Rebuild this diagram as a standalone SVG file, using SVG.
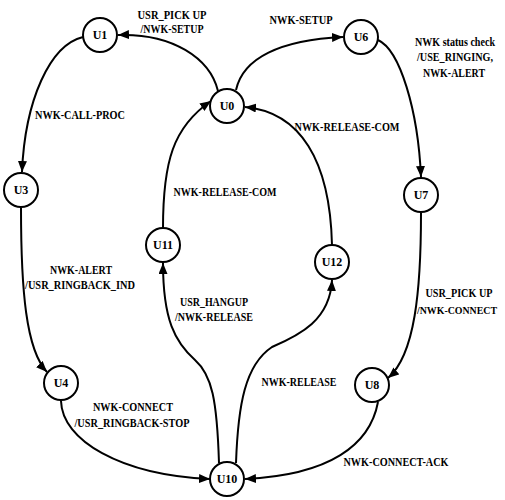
<svg xmlns="http://www.w3.org/2000/svg" width="505" height="500" viewBox="0 0 505 500">
<style>
.node circle{fill:#fff;stroke:#000;stroke-width:2}
.node text{font-family:"Liberation Serif","Times New Roman",serif;font-weight:bold;font-size:12px;text-anchor:middle}
.edge{fill:none;stroke:#000;stroke-width:2;marker-end:url(#arr)}
.lbl{font-family:"Liberation Serif","Times New Roman",serif;font-weight:bold;font-size:11.5px;text-anchor:middle;fill:#000}
</style>
<defs>
<marker id="arr" markerUnits="userSpaceOnUse" markerWidth="11" markerHeight="9" refX="11" refY="4.5" orient="auto">
<path d="M0,0 L11,4.5 L0,9 z" fill="#000"/>
</marker>
</defs>
<rect width="505" height="500" fill="#fff"/>
<g id="connectors">
<path class="edge" d="M218,91 C210,58 172,33 118,35"/>
<path class="edge" d="M236,90 C243,58 280,40 343,37"/>
<path class="edge" d="M83,37 C50,45 25,100 22,172"/>
<path class="edge" d="M378,40 C400,50 418,110 421,177"/>
<path class="edge" d="M21,208 C21,290 26,350 47,372"/>
<path class="edge" d="M421,213 C421,290 415,355 388,378"/>
<path class="edge" d="M61,401 C62,440 120,475 210,479"/>
<path class="edge" d="M378,402 C370,445 330,475 245,479"/>
<path class="edge" d="M219,463 C217,400 212,375 195,360 C175,342 163,320 163,263"/>
<path class="edge" d="M236,463 C238,405 245,365 272,347 C300,335 330,320 332,280"/>
<path class="edge" d="M163,228 C163,162 173,127 211,101"/>
<path class="edge" d="M332,245 C330,160 300,112 245,107"/>
</g>
<g id="labels">
<text class="lbl" x="172" y="19" textLength="69" lengthAdjust="spacingAndGlyphs">USR_PICK UP</text>
<text class="lbl" x="172" y="33" textLength="63" lengthAdjust="spacingAndGlyphs">/NWK-SETUP</text>
<text class="lbl" x="301" y="24" textLength="63" lengthAdjust="spacingAndGlyphs">NWK-SETUP</text>
<text class="lbl" x="455" y="46" textLength="80" lengthAdjust="spacingAndGlyphs">NWK status check</text>
<text class="lbl" x="455" y="61" textLength="76" lengthAdjust="spacingAndGlyphs">/USE_RINGING,</text>
<text class="lbl" x="454" y="77" textLength="62" lengthAdjust="spacingAndGlyphs">NWK-ALERT</text>
<text class="lbl" x="80" y="119" textLength="90" lengthAdjust="spacingAndGlyphs">NWK-CALL-PROC</text>
<text class="lbl" x="347" y="131" textLength="105" lengthAdjust="spacingAndGlyphs">NWK-RELEASE-COM</text>
<text class="lbl" x="225" y="196" textLength="103" lengthAdjust="spacingAndGlyphs">NWK-RELEASE-COM</text>
<text class="lbl" x="81" y="274" textLength="62" lengthAdjust="spacingAndGlyphs">NWK-ALERT</text>
<text class="lbl" x="80" y="289" textLength="110" lengthAdjust="spacingAndGlyphs">/USR_RINGBACK_IND</text>
<text class="lbl" x="214" y="306" textLength="68" lengthAdjust="spacingAndGlyphs">USR_HANGUP</text>
<text class="lbl" x="214" y="321" textLength="78" lengthAdjust="spacingAndGlyphs">/NWK-RELEASE</text>
<text class="lbl" x="459" y="297" textLength="67" lengthAdjust="spacingAndGlyphs">USR_PICK UP</text>
<text class="lbl" x="457" y="314" style="font-size:11px" textLength="80" lengthAdjust="spacingAndGlyphs">/NWK-CONNECT</text>
<text class="lbl" x="299" y="386" textLength="75" lengthAdjust="spacingAndGlyphs">NWK-RELEASE</text>
<text class="lbl" x="133" y="411" textLength="80" lengthAdjust="spacingAndGlyphs">NWK-CONNECT</text>
<text class="lbl" x="132" y="427" textLength="115" lengthAdjust="spacingAndGlyphs">/USR_RINGBACK-STOP</text>
<text class="lbl" x="396" y="466" textLength="105" lengthAdjust="spacingAndGlyphs">NWK-CONNECT-ACK</text>
</g>
<g id="U0" class="node"><circle cx="227" cy="106" r="17"/><text x="227" y="110">U0</text></g>
<g id="U1" class="node"><circle cx="100" cy="35" r="17"/><text x="100" y="39">U1</text></g>
<g id="U6" class="node"><circle cx="361" cy="37" r="17"/><text x="361" y="41">U6</text></g>
<g id="U3" class="node"><circle cx="21" cy="190" r="17"/><text x="21" y="194">U3</text></g>
<g id="U7" class="node"><circle cx="421" cy="195" r="17"/><text x="421" y="199">U7</text></g>
<g id="U11" class="node"><circle cx="163" cy="245" r="17"/><text x="163" y="249">U11</text></g>
<g id="U12" class="node"><circle cx="332" cy="262" r="17"/><text x="332" y="266">U12</text></g>
<g id="U4" class="node"><circle cx="61" cy="383" r="17"/><text x="61" y="387">U4</text></g>
<g id="U8" class="node"><circle cx="372" cy="385" r="17"/><text x="372" y="389">U8</text></g>
<g id="U10" class="node"><circle cx="227" cy="479" r="17"/><text x="227" y="483">U10</text></g>
</svg>
